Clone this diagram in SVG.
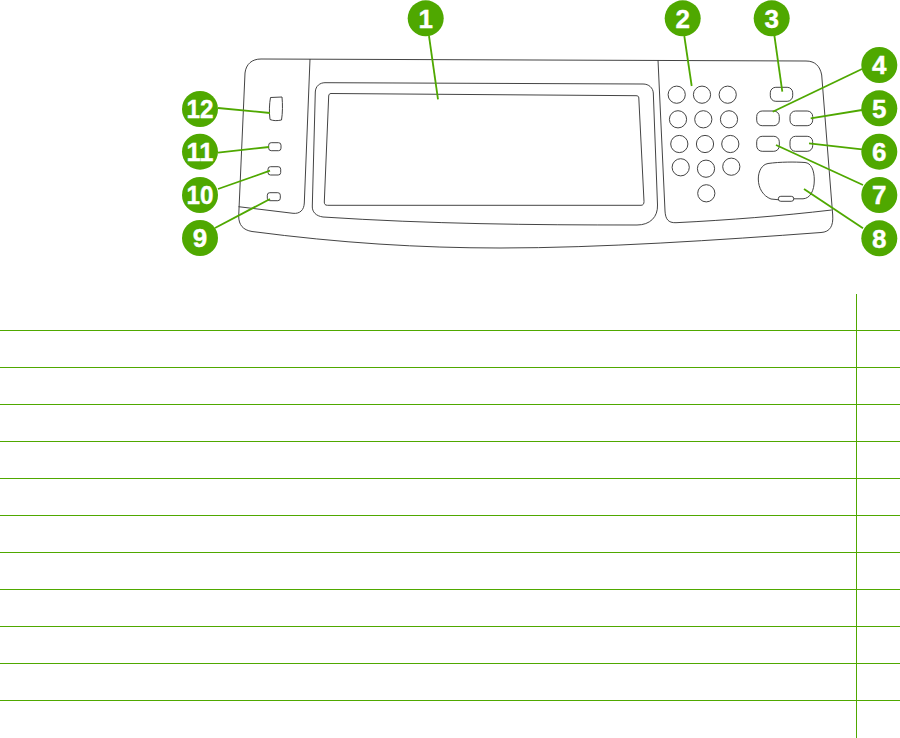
<svg xmlns="http://www.w3.org/2000/svg" width="900" height="738" viewBox="0 0 900 738">
<style>
.p{fill:none;stroke:#3a3a3a;stroke-width:.95}
.k{fill:#fff;stroke:#3a3a3a;stroke-width:.95}
.c{fill:#4fa800;stroke:none}
.t{font-family:"Liberation Sans",Arial,sans-serif;font-weight:700;font-size:26px;fill:#fff;text-anchor:middle;stroke:#fff;stroke-width:.4}
.l{stroke:#4fa800;stroke-width:1.8;fill:none}
.g{stroke:#4fa800;stroke-width:1;fill:none}
</style>
<rect width="900" height="738" fill="#fff"/>
<g id="panel">
<path class="p" d="M245 73C246 64 252 59 261 59L806 61C815 61 820 66 821.700 75L832.700 215C833.500 226 830 232 821 232.500C720 240 600 248 500 248C420 248 340 243 252 231.500C243 230 238.700 225 238.700 216Z"/>
<path class="p" d="M310 59L304.300 203C304 210 300 214 293 213.300L238.500 206.700"/>
<path class="p" d="M658 60L665 211C665.500 219 668 223 676 222.700C730 220 780 216 831.700 210"/>
<path class="p" d="M325 82.700L643 84C649 84 653 88 653.300 93L657.500 205C658 217 650 225 637 225C530 225 430 224 323 217C316 216 312 212 312.300 206L315.300 92C315.500 86 320 82.700 325 82.700Z"/>
<path class="p" d="M331 93.500L636 95.700C638 95.700 638.800 96.500 638.800 98L644 201.500C644 204 643 205.300 641 205.300H327.500C325 205.300 324.300 204 324.300 202L328.700 96C328.800 94.500 329.500 93.500 331 93.500Z"/>
</g>
<g id="keypad">
<circle class="k" cx="676.700" cy="94.700" r="8.600"/><circle class="k" cx="702" cy="94.700" r="8.600"/><circle class="k" cx="727.700" cy="94.700" r="8.600"/>
<circle class="k" cx="678" cy="119.300" r="8.600"/><circle class="k" cx="703.300" cy="119.300" r="8.600"/><circle class="k" cx="729" cy="119.300" r="8.600"/>
<circle class="k" cx="679.300" cy="144" r="8.600"/><circle class="k" cx="705" cy="144" r="8.600"/><circle class="k" cx="730.300" cy="144" r="8.600"/>
<circle class="k" cx="680.700" cy="167.300" r="8.600"/><circle class="k" cx="706" cy="168.700" r="8.600"/><circle class="k" cx="731.300" cy="166.700" r="8.600"/>
<circle class="k" cx="706.300" cy="193.300" r="8.600"/>
</g>
<g id="buttons">
<rect class="k" x="770.300" y="87.300" width="22.400" height="14" rx="5.500"/>
<rect class="k" x="756.700" y="111" width="22.600" height="14.700" rx="5.500"/>
<rect class="k" x="790" y="111" width="22.700" height="14.700" rx="5.500"/>
<rect class="k" x="756.700" y="136.300" width="22.600" height="15" rx="5.500"/>
<rect class="k" x="790" y="136.300" width="22.700" height="15" rx="5.500"/>
<path class="k" d="M768 163.500C780 161.800 795 161.800 805 162.500C811 163 814.300 170 814.300 180C814.300 191 810 198.500 803 198.800L793 198.800L779 199.800L771 199C763 196 758.300 188 758.300 179C758.300 171 762 164.500 768 163.500Z"/>
<rect class="k" x="778.300" y="196.300" width="15.500" height="5" rx="2.500"/>
</g>
<g id="leds">
<path class="k" d="M270.500 97.500L282 97C282.700 104 282.700 113 281.500 120C277 121 273 120.800 270 119.500C269 112 269.300 104 270.500 97.500Z"/>
<rect class="k" x="268.700" y="142.700" width="12.300" height="8" rx="2.500"/>
<rect class="k" x="268" y="166.700" width="12.700" height="8.300" rx="2.500"/>
<rect class="k" x="267.300" y="192.700" width="13" height="8" rx="2.500"/>
</g>
<g id="connectors">
<path class="l" d="M429 36L438 99.300"/>
<path class="l" d="M684.300 36L691.700 86"/>
<path class="l" d="M774.300 35L782.300 91.700"/>
<path class="l" d="M862 69L772.700 111.700"/>
<path class="l" d="M862 110L810.700 118.300"/>
<path class="l" d="M862 149.300L809 143.300"/>
<path class="l" d="M863 185L776 145"/>
<path class="l" d="M863 228.300L804 189"/>
<path class="l" d="M215 228L270 199"/>
<path class="l" d="M218 189L270 170.700"/>
<path class="l" d="M218 152.700L269 147"/>
<path class="l" d="M218 108L270 113"/>
</g>
<g id="callout-1"><circle class="c" cx="425.700" cy="18.300" r="18"/><text class="t" x="425.700" y="27.500">1</text></g>
<g id="callout-2"><circle class="c" cx="682.700" cy="18.300" r="18"/><text class="t" x="682.700" y="27.500">2</text></g>
<g id="callout-3"><circle class="c" cx="771.700" cy="18.300" r="18"/><text class="t" x="771.700" y="27.500">3</text></g>
<g id="callout-4"><circle class="c" cx="879.300" cy="65" r="18"/><text class="t" x="879.300" y="74.200">4</text></g>
<g id="callout-5"><circle class="c" cx="879.300" cy="108.300" r="18"/><text class="t" x="879.300" y="117.500">5</text></g>
<g id="callout-6"><circle class="c" cx="879.300" cy="151.700" r="18"/><text class="t" x="879.300" y="160.900">6</text></g>
<g id="callout-7"><circle class="c" cx="879.300" cy="195" r="18"/><text class="t" x="879.300" y="204.200">7</text></g>
<g id="callout-8"><circle class="c" cx="879.300" cy="238.300" r="18"/><text class="t" x="879.300" y="247.500">8</text></g>
<g id="callout-9"><circle class="c" cx="200" cy="238" r="18"/><text class="t" x="200" y="247.200">9</text></g>
<g id="callout-10"><circle class="c" cx="200" cy="195" r="18"/><text class="t" x="200" y="204.200" textLength="27" lengthAdjust="spacingAndGlyphs">10</text></g>
<g id="callout-11"><circle class="c" cx="200" cy="151.700" r="18"/><text class="t" x="200" y="160.900" textLength="27" lengthAdjust="spacingAndGlyphs">11</text></g>
<g id="callout-12"><circle class="c" cx="200" cy="109" r="18"/><text class="t" x="200" y="118.200" textLength="27" lengthAdjust="spacingAndGlyphs">12</text></g>
<g id="table">
<path class="g" d="M856.500 294V738M0 330.500H900M0 367.500H900M0 404.500H900M0 441.500H900M0 478.500H900M0 515.500H900M0 552.500H900M0 589.500H900M0 626.500H900M0 663.500H900M0 700.500H900"/>
</g>
</svg>
